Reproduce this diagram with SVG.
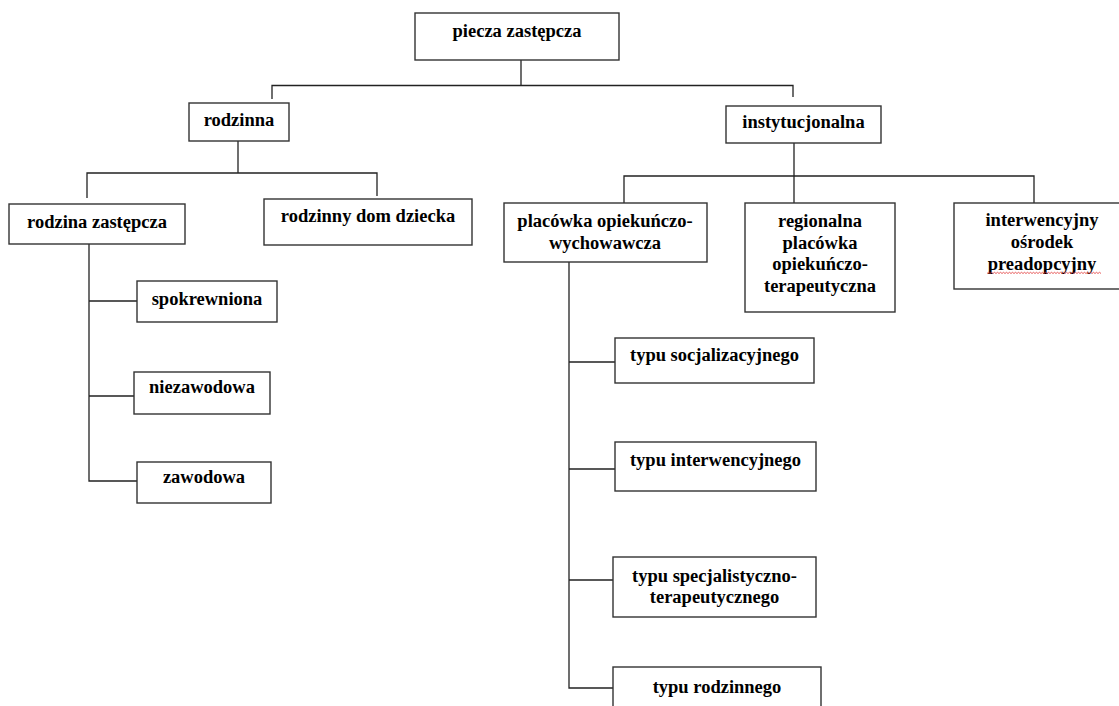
<svg xmlns="http://www.w3.org/2000/svg" width="1119" height="706" viewBox="0 0 1119 706">
<style>
.box{fill:#fff;stroke:#333;stroke-width:1.4}
.ln{fill:none;stroke:#222;stroke-width:1.3}
text{font-weight:bold;font-size:18.5px;fill:#000;text-anchor:middle}
.sq{fill:none;stroke:#e03030;stroke-width:0.8}
</style>
<rect width="1119" height="706" fill="#fff"/>
<g id="connectors">
<path class="ln" d="M521 60V85M272 99V85.5H793V97"/>
<path class="ln" d="M238 141V173M87 198V173H377V196"/>
<path class="ln" d="M794 143V203M624 203V176H1034V203"/>
<path class="ln" d="M89 244V481H137M89 301H137M89 396H134"/>
<path class="ln" d="M569 262V688H613M569 362H615M569 469H615M569 580H613"/>
</g>
<g font-family="'Liberation Serif', Tinos, 'Noto Serif', 'DejaVu Serif', serif">
<g id="n-piecza"><rect class="box" x="415" y="13" width="204" height="47"/><text x="517" y="37">piecza zastępcza</text></g>
<g id="n-rodzinna"><rect class="box" x="189" y="103" width="100" height="38"/><text x="239" y="126">rodzinna</text></g>
<g id="n-instytucjonalna"><rect class="box" x="726" y="106" width="155" height="37"/><text x="803.5" y="128">instytucjonalna</text></g>
<g id="n-rodzina-zastepcza"><rect class="box" x="9" y="204" width="176" height="40"/><text x="97" y="228">rodzina zastępcza</text></g>
<g id="n-rodzinny-dom"><rect class="box" x="264" y="199" width="208" height="46"/><text x="368" y="222">rodzinny dom dziecka</text></g>
<g id="n-spokrewniona"><rect class="box" x="137" y="281" width="140" height="41"/><text x="207" y="305">spokrewniona</text></g>
<g id="n-niezawodowa"><rect class="box" x="134" y="372" width="136" height="42"/><text x="202" y="393">niezawodowa</text></g>
<g id="n-zawodowa"><rect class="box" x="137" y="462" width="134" height="41"/><text x="204" y="483">zawodowa</text></g>
<g id="n-placowka"><rect class="box" x="504" y="203" width="203" height="59"/><text x="605" y="227">placówka opiekuńczo-</text><text x="605" y="248.5">wychowawcza</text></g>
<g id="n-regionalna"><rect class="box" x="745" y="203" width="150" height="109"/><text x="820" y="227">regionalna</text><text x="820" y="248.5">placówka</text><text x="820" y="270">opiekuńczo-</text><text x="820" y="291.5">terapeutyczna</text></g>
<g id="n-interwencyjny"><rect class="box" x="954" y="203" width="180" height="86"/><text x="1042" y="226">interwencyjny</text><text x="1042" y="248">ośrodek</text><text x="1042" y="270">preadopcyjny</text>
<path class="sq" d="M987 273.5l1.5 -1.2l1.5 1.2l1.5 -1.2l1.5 1.2l1.5 -1.2l1.5 1.2l1.5 -1.2l1.5 1.2l1.5 -1.2l1.5 1.2l1.5 -1.2l1.5 1.2l1.5 -1.2l1.5 1.2l1.5 -1.2l1.5 1.2l1.5 -1.2l1.5 1.2l1.5 -1.2l1.5 1.2l1.5 -1.2l1.5 1.2l1.5 -1.2l1.5 1.2l1.5 -1.2l1.5 1.2l1.5 -1.2l1.5 1.2l1.5 -1.2l1.5 1.2l1.5 -1.2l1.5 1.2l1.5 -1.2l1.5 1.2l1.5 -1.2l1.5 1.2l1.5 -1.2l1.5 1.2l1.5 -1.2l1.5 1.2l1.5 -1.2l1.5 1.2l1.5 -1.2l1.5 1.2l1.5 -1.2l1.5 1.2l1.5 -1.2l1.5 1.2l1.5 -1.2l1.5 1.2l1.5 -1.2l1.5 1.2l1.5 -1.2l1.5 1.2l1.5 -1.2l1.5 1.2l1.5 -1.2l1.5 1.2l1.5 -1.2l1.5 1.2l1.5 -1.2l1.5 1.2l1.5 -1.2l1.5 1.2l1.5 -1.2l1.5 1.2l1.5 -1.2l1.5 1.2l1.5 -1.2l1.5 1.2l1.5 -1.2l1.5 1.2l1.5 -1.2l1.5 1.2l1.5 -1.2l1.5 1.2"/></g>
<g id="n-socjalizacyjnego"><rect class="box" x="615" y="338" width="199" height="45"/><text x="714.5" y="361">typu socjalizacyjnego</text></g>
<g id="n-interwencyjnego"><rect class="box" x="615" y="442" width="201" height="49"/><text x="715.5" y="466">typu interwencyjnego</text></g>
<g id="n-specjalistyczno"><rect class="box" x="613" y="557" width="203" height="60"/><text x="714.5" y="582">typu specjalistyczno-</text><text x="714.5" y="603">terapeutycznego</text></g>
<g id="n-rodzinnego"><rect class="box" x="613" y="667" width="208" height="50"/><text x="717" y="693">typu rodzinnego</text></g>
</g>
</svg>
